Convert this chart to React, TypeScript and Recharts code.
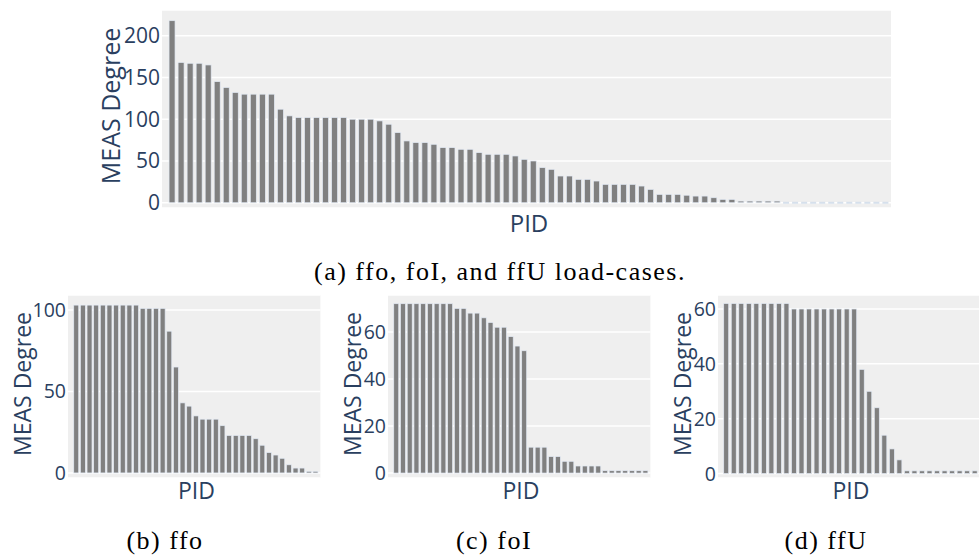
import React from 'react';
import { BarChart, Bar, XAxis, YAxis, CartesianGrid } from 'recharts';

// ---- Data ----
const valuesA = [
  218, 168, 167, 167, 165, 145, 138, 132, 130, 130, 130, 130, 112, 104, 102, 102, 102, 102, 102, 102,
  100, 100, 100, 98, 94, 84, 74, 72, 72, 70, 66, 66, 64, 64, 60, 58, 58, 58, 56, 52,
  50, 42, 40, 32, 32, 28, 28, 26, 22, 22, 22, 22, 20, 16, 10, 10, 10, 9, 8, 8,
  6, 4, 4, 2, 2, 2, 2, 2, 0, 0, 0, 0, 0, 0, 0, 0, 0, 0, 0, 0,
];
const valuesB = [
  103, 103, 103, 103, 103, 103, 103, 103, 103, 103, 101, 101, 101, 101, 87, 65, 43, 41, 35, 33,
  33, 33, 29, 23, 23, 23, 23, 21, 17, 12.5, 11, 9, 5, 3, 3, 1, 1,
];
const valuesC = [
  72, 72, 72, 72, 72, 72, 72, 72, 72, 70, 70, 68, 68, 66, 64, 62, 62, 58, 54, 52,
  11, 11, 11, 7, 7, 5, 5, 3, 3, 3, 3, 1, 1, 1, 1, 1, 1, 1,
];
const valuesD = [
  62, 62, 62, 62, 62, 62, 62, 62, 62, 60, 60, 60, 60, 60, 60, 60, 60, 60, 38, 30,
  24, 14, 9, 5, 1, 1, 1, 1, 1, 1, 1, 1, 1, 1,
];
const ticksA = [0, 50, 100, 150, 200];
const ticksB = [0, 50, 100];
const ticksC = [0, 20, 40, 60];
const ticksD = [0, 20, 40, 60];
const yTitle = 'MEAS Degree';
const xTitle = 'PID';
const captions = ['(a) ffo, foI, and ffU load-cases.', '(b) ffo', '(c) foI', '(d) ffU'];

const toRows = (vals: number[]) => vals.map((v, i) => ({ pid: `P${i + 1}`, v }));

const TEXT = '#2a3f5f';
const BAR = '#808080';
const PLOT_BG = '#efefef';
const PADV = 16;

const BarShape = (props: any) => {
  const { x, y, width, height } = props;
  if (!height || Math.abs(height) < 0.01) {
    return <line x1={x} x2={x + width} y1={y} y2={y} stroke="#d6e0ec" strokeWidth={2} />;
  }
  return (
    <rect x={x} y={y} width={width} height={height} fill={BAR} stroke="#e3eaf4" strokeWidth={0.7} />
  );
};

type PanelProps = {
  values: number[];
  ticks: number[];
  domain: [number, number];
  plotLeft: number;
  plotTop: number;
  plotW: number;
  plotH: number;
  axisW: number;
  tickSize: number;
  padL: number;
  padR: number;
  gap: string;
};

const Panel = (p: PanelProps) => {
  const data = toRows(p.values);
  return (
    <div style={{ position: 'absolute', left: p.plotLeft - p.axisW, top: p.plotTop - PADV }}>
      <BarChart
        width={p.axisW + p.plotW}
        height={p.plotH + 2 * PADV}
        data={data}
        margin={{ top: PADV, right: 0, bottom: PADV, left: 0 }}
        barCategoryGap={p.gap}
      >
        <CartesianGrid vertical={false} horizontal={true} stroke="#ffffff" strokeWidth={1.5} fill={PLOT_BG} />
        <XAxis dataKey="pid" hide padding={{ left: p.padL, right: p.padR }} />
        <YAxis
          width={p.axisW}
          domain={p.domain}
          ticks={p.ticks}
          interval={0}
          allowDataOverflow
          axisLine={false}
          tickLine={false}
          tickSize={0}
          tickMargin={2}
          tick={{ fill: TEXT, fontSize: p.tickSize, fontFamily: 'Open Sans' }}
        />
        <Bar dataKey="v" isAnimationActive={false} shape={<BarShape />} />
      </BarChart>
    </div>
  );
};

const Txt = (props: { x: number; y: number; size: number; text: string; rotate?: boolean; serif?: boolean; spacing?: number; color?: string }) => (
  <div
    style={{
      position: 'absolute',
      left: props.x,
      top: props.y,
      transform: `translate(-50%, -50%)${props.rotate ? ' rotate(-90deg)' : ''}`,
      whiteSpace: 'nowrap',
      fontFamily: props.serif ? '"Liberation Serif", serif' : '"Open Sans", sans-serif',
      fontSize: props.size,
      letterSpacing: props.spacing ?? 0,
      color: props.color ?? TEXT,
      lineHeight: 1,
    }}
  >
    {props.text}
  </div>
);

export default function App() {
  return (
    <div
      style={{
        position: 'absolute',
        left: 0,
        top: 0,
        width: 979,
        height: 555,
        overflow: 'hidden',
        background: '#ffffff',
      }}
    >
      <Panel values={valuesA} ticks={ticksA} domain={[-6.3, 230.8]} plotLeft={162} plotTop={10} plotW={729} plotH={198}
        axisW={60} tickSize={21} padL={5.6} padR={1} gap="16%" />
      <Panel values={valuesB} ticks={ticksB} domain={[-3.1, 109.2]} plotLeft={68.3} plotTop={295} plotW={252.4} plotH={183}
        axisW={50} tickSize={19.5} padL={5} padR={1.5} gap="11%" />
      <Panel values={valuesC} ticks={ticksC} domain={[-2.1, 75.7]} plotLeft={388.3} plotTop={295} plotW={262.4} plotH={183}
        axisW={40} tickSize={19.5} padL={5} padR={1.5} gap="11%" />
      <Panel values={valuesD} ticks={ticksD} domain={[-1.6, 65.1]} plotLeft={718.3} plotTop={295} plotW={262} plotH={183}
        axisW={40} tickSize={19.5} padL={4.5} padR={1.5} gap="16%" />

      <Txt x={110} y={106} size={25} text={yTitle} rotate />
      <Txt x={529} y={223} size={24} text={xTitle} />
      <Txt x={21.7} y={384} size={23} text={yTitle} rotate />
      <Txt x={351.7} y={384} size={23} text={yTitle} rotate />
      <Txt x={681.7} y={384} size={23} text={yTitle} rotate />
      <Txt x={196.5} y={490} size={23} text={xTitle} />
      <Txt x={521} y={490} size={23} text={xTitle} />
      <Txt x={851} y={490} size={23} text={xTitle} />

      <Txt x={500} y={272} size={26} text={captions[0]} serif spacing={1.5} color="#000" />
      <Txt x={165} y={541} size={26} text={captions[1]} serif spacing={1.5} color="#000" />
      <Txt x={494} y={541} size={26} text={captions[2]} serif spacing={1.5} color="#000" />
      <Txt x={826} y={541} size={26} text={captions[3]} serif spacing={1.5} color="#000" />
    </div>
  );
}
